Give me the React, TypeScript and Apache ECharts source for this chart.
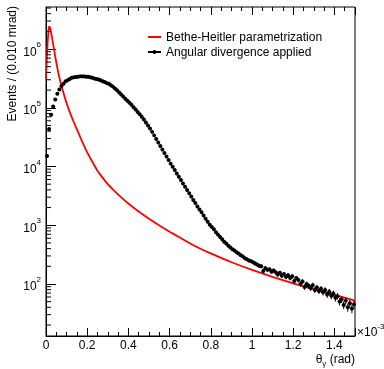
import React, { useEffect, useRef } from 'react';
import * as echarts from 'echarts';

const FONT = '"Liberation Sans", Arial, Helvetica, sans-serif';

// Bin centres of the histogram (0.010 mrad bins, axis in units of 1e-3 rad)
const binCenters: number[] = Array.from({ length: 150 }, (_, i) => Math.round((0.005 + 0.01 * i) * 1000) / 1000);

// "Angular divergence applied" – events per bin
const divergedCounts: number[] = [
  15100, 43600, 75900, 104700, 138000, 173800, 204200, 234400, 257000, 281800,
  295100, 309000, 323600, 331100, 335000, 338800, 342700, 342700, 342700, 338800,
  338800, 331100, 323600, 316200, 309000, 302000, 295100, 281800, 275400, 263000,
  257000, 242700, 229100, 213800, 199500, 182000, 167900, 154900, 142900, 131800,
  121600, 112200, 102300, 93300, 85100, 77600, 70000, 63100, 56200, 50100,
  44200, 38900, 33900, 29500, 25700, 22400, 19500, 17000, 14800, 12900,
  11200, 9890, 8710, 7590, 6680, 5890, 5130, 4520, 3980, 3510,
  3090, 2690, 2400, 2090, 1860, 1660, 1460, 1290, 1150, 1020,
  933, 851, 759, 692, 631, 575, 525, 490, 447, 417,
  389, 372, 347, 331, 309, 295, 275, 263, 251, 245,
  234, 224, 214, 204, 200,
  166, 186, 174, 178, 162, 170, 158, 145, 155, 138,
  148, 132, 141, 126, 135, 112, 126, 117, 100, 110,
  89, 100, 93, 85, 95, 79, 87, 76, 83, 72,
  79, 66, 74, 63, 69, 58, 62, 50, 55, 44,
  52, 40, 47, 38, 45,
];

// "Bethe-Heitler parametrization" curve
const bhX: number[] = [0, 0.004, 0.008, 0.012, 0.014, 0.016, 0.018, 0.02, 0.025, 0.03, 0.035, 0.04, 0.05, 0.06, 0.07, 0.08, 0.09, 0.1, 0.115, 0.133, 0.15, 0.165, 0.181, 0.2, 0.22, 0.246, 0.27, 0.3, 0.327, 0.36, 0.4, 0.44, 0.5, 0.553, 0.6, 0.65, 0.7, 0.75, 0.8, 0.9, 1.0, 1.1, 1.2, 1.3, 1.4, 1.5];
const bhY: number[] = [3.2e5, 7.1e5, 1.32e6, 2.0e6, 2.34e6, 2.4e6, 2.37e6, 2.3e6, 1.9e6, 1.5e6, 1.2e6, 9.3e5, 5.9e5, 3.9e5, 2.75e5, 2.04e5, 1.55e5, 1.2e5, 8.5e4, 5.9e4, 4.3e4, 3.24e4, 2.4e4, 1.74e4, 1.29e4, 8.9e3, 6.8e3, 5.0e3, 4.0e3, 3.1e3, 2.34e3, 1.82e3, 1.29e3, 977, 776, 617, 490, 398, 331, 234, 174, 132, 102, 81, 65, 52];

const seriesNames = ['Bethe-Heitler parametrization', 'Angular divergence applied'];

// log-axis minor tick values (2..9 x 10^k) inside the axis range
const Y_MIN = 13;
const Y_MAX = 5.2e6;
const yMinorTicks: number[] = [];
for (let d = 10; d <= 1e6; d *= 10) {
  for (let m = 2; m <= 9; m++) {
    const v = m * d;
    if (v > Y_MIN && v < Y_MAX) yMinorTicks.push(v);
  }
}

export default function App() {
  const ref = useRef<HTMLDivElement>(null);
  useEffect(() => {
    if (!ref.current) return;
    const chart = echarts.init(ref.current, null, { renderer: 'svg' });
    const tickLine = { color: '#000', width: 1 };
    const option: any = {
      animation: false,
      textStyle: { fontFamily: FONT },
      grid: { left: 46, right: 29, top: 7, bottom: 33, show: true, borderColor: '#000', borderWidth: 1, backgroundColor: 'transparent' },
      xAxis: [
        {
          type: 'value', min: 0, max: 1.5, interval: 0.2, position: 'bottom',
          axisLine: { show: true, onZero: false, lineStyle: tickLine },
          axisTick: { show: true, inside: true, length: 8, lineStyle: tickLine },
          minorTick: { show: true, splitNumber: 4, length: 4, lineStyle: tickLine },
          axisLabel: { show: true, margin: 3, fontSize: 12, color: '#000', fontFamily: FONT, showMaxLabel: false },
          splitLine: { show: false },
        },
        {
          type: 'value', min: 0, max: 1.5, interval: 0.2, position: 'top',
          axisLine: { show: false },
          axisTick: { show: true, inside: true, length: 8, lineStyle: tickLine },
          minorTick: { show: true, splitNumber: 4, length: 4, lineStyle: tickLine },
          axisLabel: { show: false },
          splitLine: { show: false },
        },
      ],
      yAxis: {
        type: 'log', logBase: 10, min: Y_MIN, max: Y_MAX,
        axisLine: { show: true, onZero: false, lineStyle: tickLine },
        axisTick: { show: true, inside: true, length: 10, lineStyle: tickLine },
        minorTick: { show: false },
        splitLine: { show: false },
        axisLabel: {
          margin: 5,
          showMinLabel: false,
          showMaxLabel: false,
          formatter: (v: number) => {
            const e = Math.log10(v);
            if (Math.abs(e - Math.round(e)) > 1e-6) return '';
            return `{b|10}{s|${Math.round(e)}}`;
          },
          rich: {
            b: { fontSize: 12, color: '#000', fontFamily: FONT, verticalAlign: 'bottom', lineHeight: 17 },
            s: { fontSize: 8, color: '#000', fontFamily: FONT, verticalAlign: 'top', lineHeight: 17 },
          },
        },
      },
      legend: {
        show: true,
        orient: 'vertical',
        left: 147,
        top: 31,
        padding: 0,
        itemWidth: 13,
        itemHeight: 5,
        itemGap: 3,
        selectedMode: false,
        textStyle: { fontSize: 12, color: '#000', fontFamily: FONT },
        lineStyle: { opacity: 1 },
        data: [
          { name: seriesNames[0], itemStyle: { opacity: 0 } },
          { name: seriesNames[1] },
        ],
      },
      series: [
        {
          name: seriesNames[0],
          type: 'line',
          data: bhX.map((x, i) => [x, bhY[i]]),
          symbol: 'none',
          smooth: 0.15,
          lineStyle: { color: '#ff0000', width: 1.8 },
          itemStyle: { color: '#ff0000' },
          z: 3,
        },
        {
          name: seriesNames[1],
          type: 'line',
          data: binCenters.map((x, i) => [x, divergedCounts[i]]),
          symbol: 'circle',
          symbolSize: 4,
          showSymbol: true,
          itemStyle: { color: '#000' },
          lineStyle: { color: '#000', width: 1, opacity: 0 },
          z: 4,
        },
        {
          type: 'custom',
          name: 'errors',
          silent: true,
          data: binCenters.map((x, i) => [x, divergedCounts[i]]),
          encode: { x: 0, y: 1 },
          renderItem: (params: any, api: any) => {
            const x = api.value(0);
            const y = api.value(1);
            const e = Math.sqrt(y);
            const top = api.coord([x, y + e]);
            const bot = api.coord([x, Math.max(y - e, 1)]);
            return {
              type: 'line',
              shape: { x1: top[0], y1: top[1], x2: bot[0], y2: bot[1] },
              style: { stroke: '#000', lineWidth: 1 },
            };
          },
          z: 4,
        },
        {
          type: 'custom',
          name: 'yminor',
          silent: true,
          data: yMinorTicks.map((v) => [0, v]),
          encode: { x: 0, y: 1 },
          renderItem: (params: any, api: any) => {
            const p = api.coord([api.value(0), api.value(1)]);
            return {
              type: 'line',
              shape: { x1: p[0], y1: p[1], x2: p[0] + 5, y2: p[1] },
              style: { stroke: '#000', lineWidth: 1 },
            };
          },
          z: 5,
        },
      ],
      graphic: [
        {
          type: 'text',
          x: 12,
          y: 6,
          rotation: Math.PI / 2,
          style: { text: 'Events / (0.010 mrad)', fontSize: 12, fontFamily: FONT, fill: '#000', align: 'right', verticalAlign: 'middle' },
        },
        {
          type: 'text',
          x: 355,
          y: 360,
          style: {
            text: '{n|θ}{sub|γ}{n| (rad)}',
            align: 'right',
            verticalAlign: 'middle',
            rich: {
              n: { fontSize: 12, fontFamily: FONT, fill: '#000', verticalAlign: 'top', lineHeight: 14 },
              sub: { fontSize: 8, fontFamily: FONT, fill: '#000', verticalAlign: 'bottom', lineHeight: 14 },
            },
          },
        },
        {
          type: 'text',
          x: 357,
          y: 330,
          style: {
            text: '{b|×10}{s|-3}',
            align: 'left',
            verticalAlign: 'middle',
            rich: {
              b: { fontSize: 12, fontFamily: FONT, fill: '#000', verticalAlign: 'bottom', lineHeight: 16 },
              s: { fontSize: 8, fontFamily: FONT, fill: '#000', verticalAlign: 'top', lineHeight: 16 },
            },
          },
        },
      ],
    };
    chart.setOption(option);
    return () => chart.dispose();
  }, []);
  return <div ref={ref} style={{ position: 'fixed', left: 0, top: 0, width: 384, height: 369 }} />;
}
